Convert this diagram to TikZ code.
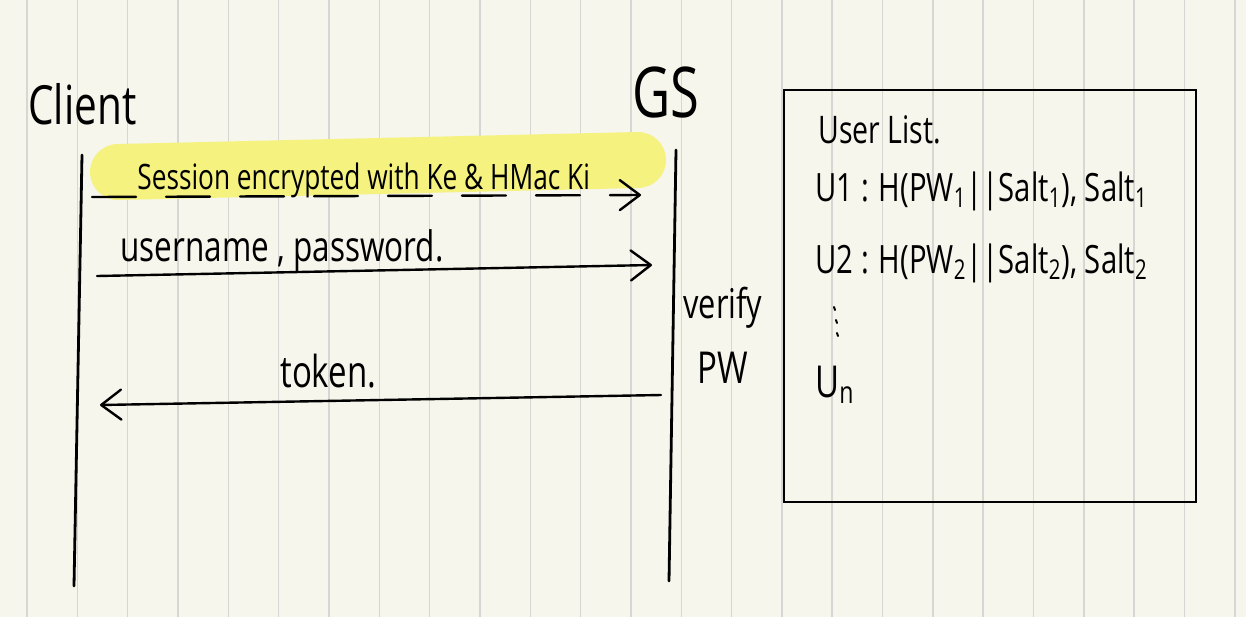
\documentclass[tikz,border=0pt]{standalone}
\usepackage{fontspec}
\usepackage{tikz}
\usetikzlibrary{arrows.meta}
\newfontfamily\handfont[FakeStretch=0.75]{Open Sans}
\definecolor{paper}{RGB}{246,246,236}
\definecolor{gridgray}{RGB}{214,214,210}
\definecolor{marker}{RGB}{245,242,128}

\begin{document}
\begin{tikzpicture}[x=0.5pt, y=-0.5pt,
  hand/.style={font=\handfont\fontsize{#1}{#1}\selectfont, inner sep=0pt},
  lifeline/.style={line width=1.4pt, line cap=round},
  msg/.style={line width=1.2pt, line cap=round, line join=round,
    -{Straight Barb[length=10pt,width=15pt,round]}}]
  % paper
  \fill[paper] (0,0) rectangle (1246,617);
  \useasboundingbox (0,0) rectangle (1246,617);
  \foreach \k in {0,...,24}
    \draw[gridgray, line width=0.8pt] ({27+50.33*\k},0) -- ({27+50.33*\k},617);

  % participants
  \node[hand=27, anchor=base west] (client) at (28,124) {Client};
  \node[hand=35, anchor=base west] (gs) at (632,117) {GS};
  \coordinate (client top) at (82,155);
  \coordinate (client bot) at (74,586);
  \coordinate (gs top) at (676,150);
  \coordinate (gs bot) at (669,581);
  \draw[lifeline] (client top) -- (client bot);
  \draw[lifeline] (gs top) -- (gs bot);

  % secure session
  \draw[marker, line width=28pt, line cap=round] (118,172) -- (638,160);
  \coordinate (c1) at (92,197);
  \coordinate (g1) at (641,195);
  \draw[msg, dash pattern=on 22pt off 15pt] (c1) -- (g1);
  \node[hand=17.5, anchor=base west] (session) at (137,189)
    {Session encrypted with Ke \& HMac Ki};

  % login
  \coordinate (c2) at (97,276);
  \coordinate (g2) at (652,265);
  \draw[msg] (c2) -- (g2);
  \node[hand=21, anchor=base west] (cred) at (120,261) {username , password.};

  % check on server
  \node[hand=20.5, anchor=base west] (verify) at (683,318) {verify};
  \node[hand=22, anchor=base west] (pw) at (697,383) {PW};

  % reply
  \coordinate (g3) at (661,395);
  \coordinate (c3) at (100,405);
  \draw[msg] (g3) -- (c3);
  \node[hand=22, anchor=base west] (token) at (280,387) {token.};

  % stored users
  \draw[line width=1.2pt] (784,90) rectangle (1196,502);
  \node[hand=19, anchor=base west] (list) at (818,143) {User List.};
  \node[hand=19.5, anchor=base west] (u1) at (815,201)
    {U1 : H(PW\textsubscript{1}||Salt\textsubscript{1}), Salt\textsubscript{1}};
  \node[hand=19.5, anchor=base west] (u2) at (815,273)
    {U2 : H(PW\textsubscript{2}||Salt\textsubscript{2}), Salt\textsubscript{2}};
  \foreach \y/\dx in {307/0, 320/2, 333/3}
    \draw[line width=1pt, line cap=round] ({834+\dx},\y) -- ({835+\dx},{\y+3});
  \node[hand=22, anchor=base west] (un) at (815,397) {U\textsubscript{n}};
\end{tikzpicture}
\end{document}
